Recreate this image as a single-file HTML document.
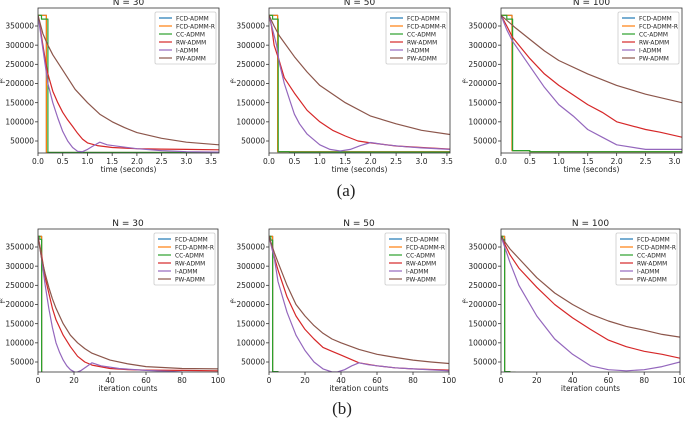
<!DOCTYPE html>
<html><head><meta charset="utf-8"><style>
html,body{margin:0;padding:0;background:#fff;}
svg text{font-family:"DejaVu Sans","Liberation Sans",sans-serif;fill:#222;}
</style></head><body>
<svg id="fig" width="685" height="419" viewBox="0 0 685 419" xmlns="http://www.w3.org/2000/svg">
<text x="346" y="196" text-anchor="middle" font-size="17" style="font-family:'Liberation Serif',serif">(a)</text>
<text x="342" y="414" text-anchor="middle" font-size="17" style="font-family:'Liberation Serif',serif">(b)</text>
</svg>
<script>
const seriesNames = ["FCD-ADMM","FCD-ADMM-R","CC-ADMM","RW-ADMM","I-ADMM","PW-ADMM"];
const seriesColors = ["#1f77b4","#ff7f0e","#2ca02c","#d62728","#9467bd","#8c564b"];
const yTicks = [50000,100000,150000,200000,250000,300000,350000];
const timeTicks = [0,0.5,1.0,1.5,2.0,2.5,3.0,3.5];
const iterTicks = [0,20,40,60,80,100];

// Panel a1: N=30 time
const a1_fcd_x=[0,0.17,3.66], a1_fcd_y=[378000,20000,20000];
const a1_fcdr_x=[0,0.17,3.66], a1_fcdr_y=[378000,20000,20000];
const a1_cc_x=[0,0.07,0.2,3.66], a1_cc_y=[378000,368000,20000,20000];
const a1_rw_x=[0,0.05,0.1,0.15,0.2,0.3,0.4,0.5,0.6,0.7,0.8,0.9,1.0,1.2,1.5,2.0,2.5,3.0,3.66];
const a1_rw_y=[378000,340000,300000,260000,225000,180000,150000,125000,105000,88000,70000,55000,45000,38000,33000,30000,29000,28000,27000];
const a1_i_x=[0,0.1,0.2,0.3,0.4,0.5,0.6,0.7,0.8,0.9,1.0,1.1,1.25,1.4,1.7,2.0,2.5,3.0,3.66];
const a1_i_y=[378000,290000,200000,150000,110000,75000,50000,33000,23000,22000,28000,36000,47000,40000,35000,30000,25000,22000,21000];
const a1_pw_x=[0,0.1,0.2,0.3,0.5,0.75,1.0,1.25,1.5,1.75,2.0,2.5,3.0,3.66];
const a1_pw_y=[378000,330000,300000,275000,235000,185000,150000,120000,100000,85000,72000,57000,47000,40000];
// Panel a2: N=50 time
const a2_fcd_x=[0,0.17,3.56], a2_fcd_y=[378000,22000,21000];
const a2_fcdr_x=[0,0.17,3.56], a2_fcdr_y=[378000,22000,21000];
const a2_cc_x=[0,0.07,0.18,0.4,3.56], a2_cc_y=[378000,368000,22000,21000,21000];
const a2_rw_x=[0,0.05,0.1,0.15,0.2,0.3,0.5,0.75,1.0,1.25,1.5,1.75,2.0,2.5,3.0,3.56];
const a2_rw_y=[378000,350000,300000,280000,260000,215000,175000,130000,100000,78000,63000,50000,45000,37000,33000,29000];
const a2_i_x=[0,0.15,0.2,0.3,0.4,0.5,0.6,0.75,1.0,1.2,1.4,1.6,1.8,2.0,2.3,2.7,3.0,3.56];
const a2_i_y=[378000,300000,255000,200000,160000,120000,95000,68000,40000,28000,24000,28000,38000,46000,40000,35000,32000,28000];
const a2_pw_x=[0,0.1,0.2,0.5,0.75,1.0,1.5,2.0,2.5,3.0,3.56];
const a2_pw_y=[378000,350000,325000,270000,230000,195000,150000,115000,95000,78000,67000];
// Panel a3: N=100 time
const a3_fcd_x=[0,0.19,0.5,3.13], a3_fcd_y=[378000,25000,22000,21000];
const a3_fcdr_x=[0,0.19,0.5,3.13], a3_fcdr_y=[378000,25000,22000,21000];
const a3_cc_x=[0,0.1,0.2,0.5,3.13], a3_cc_y=[378000,368000,25000,22000,21000];
const a3_rw_x=[0,0.1,0.2,0.5,0.75,1.0,1.25,1.5,1.75,2.0,2.5,2.75,3.13];
const a3_rw_y=[378000,350000,320000,265000,225000,195000,170000,145000,125000,100000,80000,73000,60000];
const a3_i_x=[0,0.1,0.2,0.5,0.75,1.0,1.25,1.5,1.75,2.0,2.5,3.13];
const a3_i_y=[378000,340000,310000,245000,190000,145000,115000,80000,60000,40000,28000,28000];
const a3_pw_x=[0,0.25,0.5,0.75,1.0,1.5,2.0,2.5,3.13];
const a3_pw_y=[378000,345000,315000,285000,260000,225000,195000,172000,150000];
// Panel b1: N=30 iterations
const b1_fcd_x=[0,2,100], b1_fcd_y=[378000,20000,20000];
const b1_fcdr_x=[0,2,100], b1_fcdr_y=[378000,20000,20000];
const b1_cc_x=[0,1,2,100], b1_cc_y=[378000,370000,20000,20000];
const b1_rw_x=[0,2,4,6,8,10,14,18,22,26,30,40,50,60,80,100];
const b1_rw_y=[378000,330000,270000,230000,190000,160000,120000,90000,65000,50000,42000,33000,30000,29000,28000,27000];
const b1_i_x=[0,2,4,6,8,10,12,14,16,18,21,24,27,30,35,45,60,80,100];
const b1_i_y=[378000,320000,250000,190000,140000,100000,75000,55000,40000,30000,22000,28000,38000,48000,40000,33000,28000,24000,22000];
const b1_pw_x=[0,2,4,6,8,10,14,18,22,26,30,40,50,60,80,100];
const b1_pw_y=[378000,320000,280000,245000,215000,190000,150000,120000,100000,85000,73000,55000,45000,38000,33000,32000];
// Panel b2: N=50 iterations
const b2_fcd_x=[0,2,5,100], b2_fcd_y=[378000,25000,22000,22000];
const b2_fcdr_x=[0,2,5,100], b2_fcdr_y=[378000,25000,22000,22000];
const b2_cc_x=[0,1,2,5,100], b2_cc_y=[378000,368000,25000,22000,22000];
const b2_rw_x=[0,2,5,10,15,20,25,30,35,40,45,50,60,70,80,100];
const b2_rw_y=[378000,340000,290000,220000,170000,135000,110000,88000,78000,68000,58000,48000,40000,35000,32000,29000];
const b2_i_x=[0,3,5,10,15,20,25,30,35,38,42,46,50,55,60,70,80,100];
const b2_i_y=[378000,320000,260000,180000,120000,80000,50000,32000,24000,24000,30000,40000,48000,43000,40000,35000,32000,27000];
const b2_pw_x=[0,3,5,10,15,20,25,30,35,40,50,60,70,80,90,100];
const b2_pw_y=[378000,335000,310000,250000,200000,170000,145000,125000,110000,100000,83000,70000,62000,55000,50000,46000];
// Panel b3: N=100 iterations
const b3_fcd_x=[0,2,5,8,100], b3_fcd_y=[378000,25000,23000,21000,21000];
const b3_fcdr_x=[0,2,5,8,100], b3_fcdr_y=[378000,25000,23000,21000,21000];
const b3_cc_x=[0,1,2,5,8,100], b3_cc_y=[378000,370000,25000,23000,21000,21000];
const b3_rw_x=[0,5,10,20,30,40,50,60,70,80,90,100];
const b3_rw_y=[378000,330000,295000,245000,200000,165000,135000,107000,90000,78000,70000,60000];
const b3_i_x=[0,5,10,20,30,40,50,60,70,80,90,100];
const b3_i_y=[378000,310000,250000,170000,110000,70000,40000,30000,27000,30000,38000,50000];
const b3_pw_x=[0,5,10,20,30,40,50,60,70,80,90,100];
const b3_pw_y=[378000,345000,320000,270000,230000,200000,175000,157000,143000,133000,122000,115000];

const panels=[
 {id:"a1",title:"N = 30",L:38,R:219,T:8,B:153,xmax:3.66,ticks:timeTicks,xl:"time (seconds)",
  s:[[a1_fcd_x,a1_fcd_y],[a1_fcdr_x,a1_fcdr_y],[a1_cc_x,a1_cc_y],[a1_rw_x,a1_rw_y],[a1_i_x,a1_i_y],[a1_pw_x,a1_pw_y]]},
 {id:"a2",title:"N = 50",L:269,R:450,T:8,B:153,xmax:3.56,ticks:timeTicks,xl:"time (seconds)",
  s:[[a2_fcd_x,a2_fcd_y],[a2_fcdr_x,a2_fcdr_y],[a2_cc_x,a2_cc_y],[a2_rw_x,a2_rw_y],[a2_i_x,a2_i_y],[a2_pw_x,a2_pw_y]]},
 {id:"a3",title:"N = 100",L:501,R:682,T:8,B:153,xmax:3.13,ticks:timeTicks,xl:"time (seconds)",
  s:[[a3_fcd_x,a3_fcd_y],[a3_fcdr_x,a3_fcdr_y],[a3_cc_x,a3_cc_y],[a3_rw_x,a3_rw_y],[a3_i_x,a3_i_y],[a3_pw_x,a3_pw_y]]},
 {id:"b1",title:"N = 30",L:38,R:218,T:229,B:372,xmax:100,ticks:iterTicks,xl:"iteration counts",
  s:[[b1_fcd_x,b1_fcd_y],[b1_fcdr_x,b1_fcdr_y],[b1_cc_x,b1_cc_y],[b1_rw_x,b1_rw_y],[b1_i_x,b1_i_y],[b1_pw_x,b1_pw_y]]},
 {id:"b2",title:"N = 50",L:269,R:449,T:229,B:372,xmax:100,ticks:iterTicks,xl:"iteration counts",
  s:[[b2_fcd_x,b2_fcd_y],[b2_fcdr_x,b2_fcdr_y],[b2_cc_x,b2_cc_y],[b2_rw_x,b2_rw_y],[b2_i_x,b2_i_y],[b2_pw_x,b2_pw_y]]},
 {id:"b3",title:"N = 100",L:501,R:680,T:229,B:372,xmax:100,ticks:iterTicks,xl:"iteration counts",
  s:[[b3_fcd_x,b3_fcd_y],[b3_fcdr_x,b3_fcdr_y],[b3_cc_x,b3_cc_y],[b3_rw_x,b3_rw_y],[b3_i_x,b3_i_y],[b3_pw_x,b3_pw_y]]}
];
const NS="http://www.w3.org/2000/svg";
const fig=document.getElementById("fig");
function mk(tag,attrs,parent){const e=document.createElementNS(NS,tag);for(const k in attrs)e.setAttribute(k,attrs[k]);(parent||fig).appendChild(e);return e;}
panels.forEach(p=>{
  const g=mk("g",{});
  
  
  const xs=v=>p.L+v/p.xmax*(p.R-p.L);
  const ys=v=>p.T+18+(350000-v)*115/300000;
  const cid="clip"+p.id;
  const cp=mk("clipPath",{id:cid},g);mk("rect",{x:p.L,y:p.T,width:p.R-p.L,height:p.B-p.T},cp);
  p.s.forEach((sr,i)=>{
    const X=sr[0],Y=sr[1];let d="M"+xs(X[0]).toFixed(1)+","+ys(Y[0]).toFixed(1);
    for(let k=1;k<X.length;k++){
      if(i<3) d+="H"+xs(X[k]).toFixed(1)+"V"+ys(Y[k]).toFixed(1);
      else d+="L"+xs(X[k]).toFixed(1)+","+ys(Y[k]).toFixed(1);
    }
    const path=mk("path",{d:d,fill:"none",stroke:seriesColors[i],"stroke-width":1.2,"stroke-linejoin":"round","clip-path":"url(#"+cid+")"},g);
    
    
  });
  const fr=mk("rect",{x:p.L,y:p.T,width:p.R-p.L,height:p.B-p.T,fill:"none",stroke:"#333","stroke-width":0.8},g);
  
  
  yTicks.forEach(v=>{const y=ys(v);mk("line",{x1:p.L-3,x2:p.L,y1:y,y2:y,stroke:"#333","stroke-width":0.8},g);
    const t=mk("text",{x:p.L-4,y:y+2.6,"font-size":7.5,"text-anchor":"end"},g);t.textContent=v;
    
    });
  p.ticks.forEach(v=>{if(v>p.xmax)return;const x=xs(v);mk("line",{x1:x,x2:x,y1:p.B,y2:p.B+3,stroke:"#333","stroke-width":0.8},g);
    const t=mk("text",{x:x,y:p.B+11,"font-size":7.5,"text-anchor":"middle"},g);t.textContent=(p.xmax<10?v.toFixed(1):v);
    
    });
  const xl=mk("text",{x:(p.L+p.R)/2,y:p.B+19,"font-size":7.5,"text-anchor":"middle"},g);xl.textContent=p.xl;
  
  
  const yl=mk("text",{x:0,y:0,"font-size":7,"text-anchor":"middle",transform:"translate("+(p.L-33)+","+((p.T+p.B)/2)+") rotate(-90)"},g);yl.textContent="fᵏ";
  
  
  const ti=mk("text",{x:(p.L+p.R)/2,y:p.T-3,"font-size":9,"text-anchor":"middle"},g);ti.textContent=p.title;
  
  
  const lx=p.R-64, ly=p.T+4;
  const lg=mk("g",{},g);
  
  
  mk("rect",{x:lx,y:ly,width:61,height:52,fill:"#fff",stroke:"#ccc","stroke-width":0.8,rx:1.5},lg);
  seriesNames.forEach((n,i)=>{const yy=ly+6+i*8;
    mk("line",{x1:lx+4,x2:lx+17,y1:yy,y2:yy,stroke:seriesColors[i],"stroke-width":1.2},lg);
    const t=mk("text",{x:lx+21,y:yy+2.3,"font-size":5.9},lg);t.textContent=n;
    
    });
});
</script>
</body></html>
